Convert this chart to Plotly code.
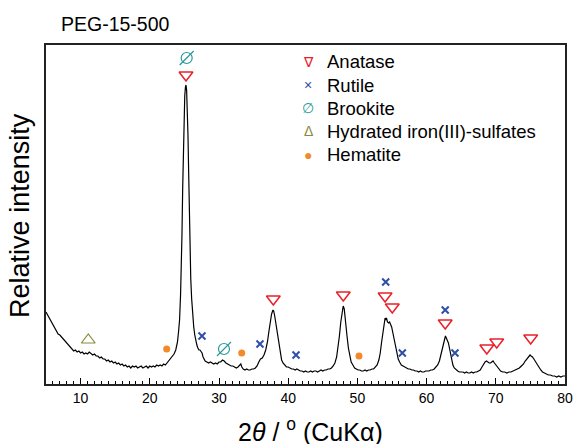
import plotly.graph_objects as go

# ---- XRD pattern (2theta in degrees, relative intensity in a.u.) ----
two_theta = [
    5.00, 5.25, 5.50, 5.75, 6.00, 6.25, 6.50, 6.75, 7.00, 7.25, 7.50, 7.75, 8.00, 8.25, 8.50, 8.75,
    9.00, 9.25, 9.50, 9.75, 10.00, 10.25, 10.50, 10.75, 11.00, 11.25, 11.50, 11.75, 12.00, 12.25,
    12.50, 12.75, 13.00, 13.25, 13.50, 13.75, 14.00, 14.25, 14.50, 14.75, 15.00, 15.25, 15.50, 15.75,
    16.00, 16.25, 16.50, 16.75, 17.00, 17.25, 17.50, 17.75, 18.00, 18.25, 18.50, 18.75, 19.00, 19.25,
    19.50, 19.75, 20.00, 20.25, 20.50, 20.75, 21.00, 21.25, 21.50, 21.75, 22.00, 22.25, 22.50, 22.75,
    23.00, 23.25, 23.50, 23.75, 24.00, 24.15, 24.30, 24.45, 24.55, 24.65, 24.75, 24.85, 24.95, 25.05,
    25.15, 25.23, 25.32, 25.42, 25.52, 25.62, 25.72, 25.82, 25.92, 26.05, 26.20, 26.35, 26.50, 26.65,
    26.80, 26.95, 27.10, 27.25, 27.40, 27.55, 27.70, 27.85, 28.00, 28.25, 28.50, 28.75, 29.00, 29.25,
    29.50, 29.75, 30.00, 30.25, 30.50, 30.75, 31.00, 31.25, 31.50, 31.75, 32.00, 32.25, 32.50, 32.75,
    33.00, 33.15, 33.30, 33.50, 33.75, 34.00, 34.25, 34.50, 34.75, 35.00, 35.25, 35.50, 35.75, 36.00,
    36.25, 36.50, 36.75, 37.00, 37.20, 37.40, 37.60, 37.80, 37.90, 38.05, 38.25, 38.45, 38.65, 38.85,
    39.05, 39.25, 39.50, 39.75, 40.00, 40.25, 40.50, 40.75, 41.00, 41.25, 41.50, 41.75, 42.00, 42.25,
    42.50, 42.75, 43.00, 43.25, 43.50, 43.75, 44.00, 44.25, 44.50, 44.75, 45.00, 45.25, 45.50, 45.75,
    46.00, 46.25, 46.50, 46.75, 47.00, 47.20, 47.40, 47.60, 47.80, 47.95, 48.10, 48.30, 48.50, 48.70,
    48.90, 49.10, 49.35, 49.60, 49.85, 50.10, 50.35, 50.60, 50.85, 51.10, 51.35, 51.60, 51.85, 52.10,
    52.35, 52.60, 52.85, 53.10, 53.30, 53.50, 53.70, 53.85, 54.00, 54.10, 54.20, 54.35, 54.50, 54.65,
    54.80, 54.95, 55.10, 55.30, 55.50, 55.70, 55.90, 56.10, 56.35, 56.60, 56.85, 57.10, 57.35, 57.60,
    57.85, 58.10, 58.35, 58.60, 58.85, 59.10, 59.35, 59.60, 59.85, 60.10, 60.35, 60.60, 60.85, 61.10,
    61.35, 61.60, 61.85, 62.05, 62.25, 62.45, 62.60, 62.72, 62.85, 63.00, 63.15, 63.30, 63.45, 63.60,
    63.80, 64.00, 64.25, 64.50, 64.75, 65.00, 65.25, 65.50, 65.75, 66.00, 66.25, 66.50, 66.75, 67.00,
    67.25, 67.50, 67.75, 68.00, 68.20, 68.45, 68.65, 68.85, 69.05, 69.25, 69.45, 69.60, 69.80, 70.00,
    70.20, 70.40, 70.70, 71.00, 71.30, 71.60, 71.90, 72.20, 72.50, 72.80, 73.10, 73.40, 73.70, 74.00,
    74.25, 74.50, 74.75, 74.95, 75.10, 75.30, 75.50, 75.75, 76.00, 76.25, 76.50, 76.75, 77.00, 77.30,
    77.60, 77.90, 78.20, 78.50, 78.80, 79.10, 79.40, 79.70, 80.00,
]
intensity = [
    72, 69, 66, 63, 60, 56, 54, 50, 49, 47, 44, 43, 40, 38, 36, 35,
    33, 34, 32, 33, 31, 32, 30, 31, 30, 32, 30, 29, 30, 28,
    28, 26, 27, 25, 25, 23, 24, 22, 23, 21, 22, 20, 21, 19,
    20, 18, 19, 17, 18, 16, 18, 17, 18, 16, 17, 18, 16, 17,
    18, 16, 18, 17, 18, 17, 19, 18, 19, 18, 20, 19, 21, 23,
    25, 27, 30, 34, 42, 52, 64, 90, 115, 150, 195, 240, 268, 288,
    297, 299, 294, 275, 248, 210, 170, 130, 105, 85, 68, 57, 49, 43,
    39, 36, 34, 34, 33, 31, 27, 24, 23, 22, 21, 22, 21, 20,
    21, 20, 22, 22, 24, 23, 21, 20, 19, 18, 18, 17, 16, 17,
    19, 20, 17, 15, 14, 15, 14, 14, 15, 15, 16, 18, 22, 25,
    26, 29, 34, 42, 52, 62, 70, 74, 73, 68, 59, 48, 38, 30,
    24, 21, 19, 17, 17, 16, 15, 15, 14, 15, 14, 13, 13, 12,
    13, 12, 12, 13, 12, 13, 13, 12, 13, 14, 13, 14, 14, 15,
    15, 16, 18, 21, 27, 36, 48, 62, 74, 78, 75, 64, 48, 36,
    27, 22, 19, 16, 15, 14, 14, 13, 13, 14, 13, 14, 14, 15,
    15, 17, 19, 24, 31, 42, 54, 62, 66, 64, 66, 62, 61, 62,
    60, 57, 52, 45, 37, 30, 25, 22, 19, 18, 17, 16, 15, 15,
    14, 14, 13, 13, 12, 13, 12, 12, 13, 13, 13, 14, 14, 15,
    17, 19, 23, 29, 36, 43, 47, 48, 46, 44, 41, 36, 30, 24,
    19, 16, 14, 13, 12, 12, 12, 11, 12, 11, 11, 12, 11, 12,
    12, 13, 14, 17, 20, 22, 23, 22, 21, 21, 22, 23, 21, 19,
    17, 15, 13, 12, 12, 11, 12, 12, 13, 14, 15, 16, 18, 20,
    23, 25, 27, 29, 28, 27, 25, 22, 19, 16, 14, 12, 11, 10,
    9, 9, 8, 8, 7, 8, 7, 8, 8,
]

# ---- phase reflections (2theta, marker height) ----
anatase_x = [25.23, 37.85, 47.96, 54.00, 55.04, 62.69, 68.70, 70.13, 75.04]
anatase_y = [309, 85, 89, 88, 77, 61, 36, 42, 46]
rutile_x = [27.54, 35.92, 41.13, 54.09, 56.49, 62.69, 64.10]
rutile_y = [48, 40, 29, 102, 31, 74, 31]
brookite_x = [25.33, 30.72]
brookite_y = [326, 35]
sulfate_x = [11.11]
sulfate_y = [44]
hematite_x = [22.44, 33.28, 50.23]
hematite_y = [35, 31, 28]

legend_labels = ["Anatase", "Rutile", "Brookite", "Hydrated iron(III)-sulfates", "Hematite"]
legend_glyphs = ["∇", "×", "∅", "Δ", "●"]
legend_colors = ["#e8202a", "#2e4fa8", "#2a9a98", "#8a8a3c", "#f28a2a"]

x_ticks = [10, 20, 30, 40, 50, 60, 70, 80]

FONT = "Liberation Sans, Arial, sans-serif"
RED, BLUE, TEAL, OLIVE, ORANGE = legend_colors

fig = go.Figure()
fig.add_trace(go.Scatter(x=two_theta, y=intensity, mode="lines",
                         line=dict(color="black", width=1.2), showlegend=False))
fig.add_trace(go.Scatter(x=anatase_x, y=anatase_y, mode="markers", showlegend=False,
                         marker=dict(symbol="triangle-down-open", size=12, color=RED,
                                     line=dict(width=1.5, color=RED))))
fig.add_trace(go.Scatter(x=rutile_x, y=rutile_y, mode="markers", showlegend=False,
                         marker=dict(symbol="x-thin-open", size=7, color=BLUE,
                                     line=dict(width=2, color=BLUE))))
fig.add_trace(go.Scatter(x=brookite_x, y=brookite_y, mode="markers", showlegend=False,
                         marker=dict(symbol="circle-open", size=11, color=TEAL,
                                     line=dict(width=1.2, color=TEAL))))
fig.add_trace(go.Scatter(x=brookite_x, y=brookite_y, mode="markers", showlegend=False,
                         marker=dict(symbol="line-ne-open", size=14, color=TEAL,
                                     line=dict(width=1.2, color=TEAL))))
fig.add_trace(go.Scatter(x=sulfate_x, y=sulfate_y, mode="markers", showlegend=False,
                         marker=dict(symbol="triangle-up-open", size=12, color=OLIVE,
                                     line=dict(width=1.2, color=OLIVE))))
fig.add_trace(go.Scatter(x=hematite_x, y=hematite_y, mode="markers", showlegend=False,
                         marker=dict(symbol="circle", size=7, color=ORANGE)))

# custom legend (text annotations)
row_y = [0.950, 0.882, 0.814, 0.746, 0.676]
for lab, gl, col, yy in zip(legend_labels, legend_glyphs, legend_colors, row_y):
    fig.add_annotation(x=0.505, y=yy, xref="paper", yref="paper", text=gl, showarrow=False,
                       xanchor="center", yanchor="middle",
                       font=dict(family=FONT, size=14, color=col))
    fig.add_annotation(x=0.537, y=yy, xref="paper", yref="paper", text=lab, showarrow=False,
                       xanchor="left", yanchor="middle",
                       font=dict(family=FONT, size=18.5, color="black"))

fig.add_annotation(x=0.025, y=1.062, xref="paper", yref="paper", text="PEG-15-500",
                   showarrow=False, xanchor="left", yanchor="middle",
                   font=dict(family=FONT, size=19.5, color="black"))

# axis titles as annotations for exact placement
fig.add_annotation(x=0.509, y=-0.136, xref="paper", yref="paper",
                   text="2<i>θ</i> / <sup>o</sup> (CuKα)", showarrow=False,
                   xanchor="center", yanchor="middle",
                   font=dict(family=FONT, size=25, color="black"))
fig.add_annotation(x=-0.050, y=0.496, xref="paper", yref="paper",
                   text="Relative intensity", showarrow=False, textangle=-90,
                   xanchor="center", yanchor="middle",
                   font=dict(family=FONT, size=27, color="black"))

fig.update_layout(
    width=574, height=444,
    margin=dict(l=46, r=9, t=45, b=60),
    paper_bgcolor="white", plot_bgcolor="white",
    font=dict(family=FONT, color="black"),
    xaxis=dict(range=[5, 80], tickvals=x_ticks, ticks="inside", ticklen=6, tickwidth=1,
               tickcolor="black", showline=True, linecolor="#222", linewidth=1.5, mirror=True,
               showgrid=False, zeroline=False, tickfont=dict(size=14), automargin=False,
               minor=dict(dtick=1, tick0=0, ticks="inside", ticklen=3, tickcolor="black")),
    yaxis=dict(range=[0, 339], showticklabels=False, ticks="", showline=True, linecolor="#222",
               linewidth=1.5, mirror=True, showgrid=False, zeroline=False, automargin=False),
)

fig.write_html("out.html")
